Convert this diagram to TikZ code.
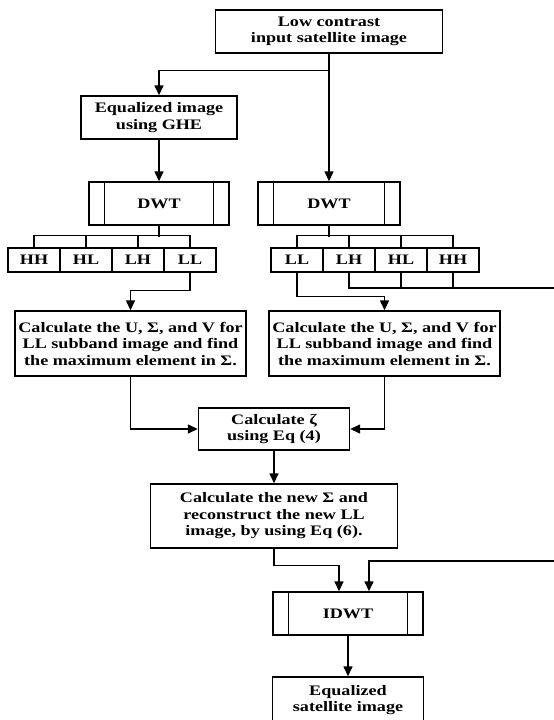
\documentclass[tikz,border=0pt]{standalone}
\usepackage{fontspec}
\setmainfont{Liberation Serif}[FakeStretch=1.25]
\usepackage{tikz}
\usetikzlibrary{arrows.meta, positioning}

\begin{document}
\begin{tikzpicture}
    [
		x=1pt, y=-1pt,
		line width=1.4pt,
		>={Triangle[width=9pt,length=10pt]},
		block/.style={
			draw, rectangle, align=center, inner sep=0pt,
			font=\fontsize{14.5pt}{16.5pt}\selectfont\bfseries
		},
		band/.style={
			block, minimum width=52pt, minimum height=24pt
		}
	]

\useasboundingbox (0,0) rectangle (554,720);

% Nodes
\node (input) [block, minimum width=227pt, minimum height=43pt] at (329,31.5) {Low contrast\\input satellite image};
\node (ghe) [block, minimum width=156pt, minimum height=43pt] at (159,117.5) {Equalized image\\using GHE};
\node (dwtL) [block, minimum width=140pt, minimum height=43pt] at (159,203.5) {DWT};
\node (dwtR) [block, minimum width=142pt, minimum height=43pt] at (329,203.5) {DWT};

\node (HHa) [band] at (34,260) {HH};
\node (HLa) [band, right=-1.4pt of HHa] {HL};
\node (LHa) [band, right=-1.4pt of HLa] {LH};
\node (LLa) [band, right=-1.4pt of LHa] {LL};

\node (LLb) [band] at (297,260) {LL};
\node (LHb) [band, right=-1.4pt of LLb] {LH};
\node (HLb) [band, right=-1.4pt of LHb] {HL};
\node (HHb) [band, right=-1.4pt of HLb] {HH};

\node (svdL) [block, minimum width=231pt, minimum height=65pt] at (130.5,343.5) {Calculate the U, Σ, and V for\\LL subband image and find\\the maximum element in Σ.};
\node (svdR) [block, minimum width=231pt, minimum height=65pt] at (384.5,343.5) {Calculate the U, Σ, and V for\\LL subband image and find\\the maximum element in Σ.};
\node (zeta) [block, minimum width=151pt, minimum height=42pt] at (274,429) {Calculate ζ\\using Eq (4)};
\node (newS) [block, minimum width=247pt, minimum height=64pt] at (274,516) {Calculate the new Σ and\\reconstruct the new LL\\image, by using Eq (6).};
\node (idwt) [block, minimum width=150pt, minimum height=43pt] at (348,613.5) {IDWT};
\node (out) [block, minimum width=151pt, minimum height=46pt] at (348,700) {Equalized\\satellite image};

% side bars of the transform boxes
\foreach \n in {dwtL, dwtR, idwt} {
	\draw ([xshift=16pt]\n.north west) -- ([xshift=16pt]\n.south west);
	\draw ([xshift=-16pt]\n.north east) -- ([xshift=-16pt]\n.south east);
}

\coordinate (edgeTop) at (558,288);
\coordinate (edgeBot) at (558,561);

% Transitions
\draw [->] (input.south) -- ++(0,17) -| (ghe.north);
\draw [->] (input.south) -- (dwtR.north);
\draw [->] (ghe) -- (dwtL);

% split into subbands
\draw (dwtL.south) -- ++(0,11);
\draw (HHa.north) -- ++(0,-12) -| (LLa.north);
\draw (HLa.north) -- ++(0,-12);
\draw (LHa.north) -- ++(0,-12);

\draw (dwtR.south) -- ++(0,11);
\draw (LLb.north) -- ++(0,-12) -| (HHb.north);
\draw (LHb.north) -- ++(0,-12);
\draw (HLb.north) -- ++(0,-12);

\draw [->] (LLa.south) -- ++(0,18) -| (svdL.north);
\draw [->] (LLb.south) -- ++(0,24) -| (svdR.north);

% high bands go round to the IDWT
\draw (HLb.south) -- ++(0,16);
\draw (HHb.south) -- ++(0,16);
\draw [->] (LHb.south) -- (LHb.south |- edgeTop) -- (edgeTop)
	-- (edgeBot) -| ([xshift=21pt]idwt.north);

\draw [->] (svdL.south) |- (zeta.west);
\draw [->] (svdR.south) |- (zeta.east);
\draw [->] (zeta) -- (newS);
\draw [->] (newS.south) -- ++(0,17) -| ([xshift=-9pt]idwt.north);
\draw [->] (idwt) -- (out);

\end{tikzpicture}
\end{document}
